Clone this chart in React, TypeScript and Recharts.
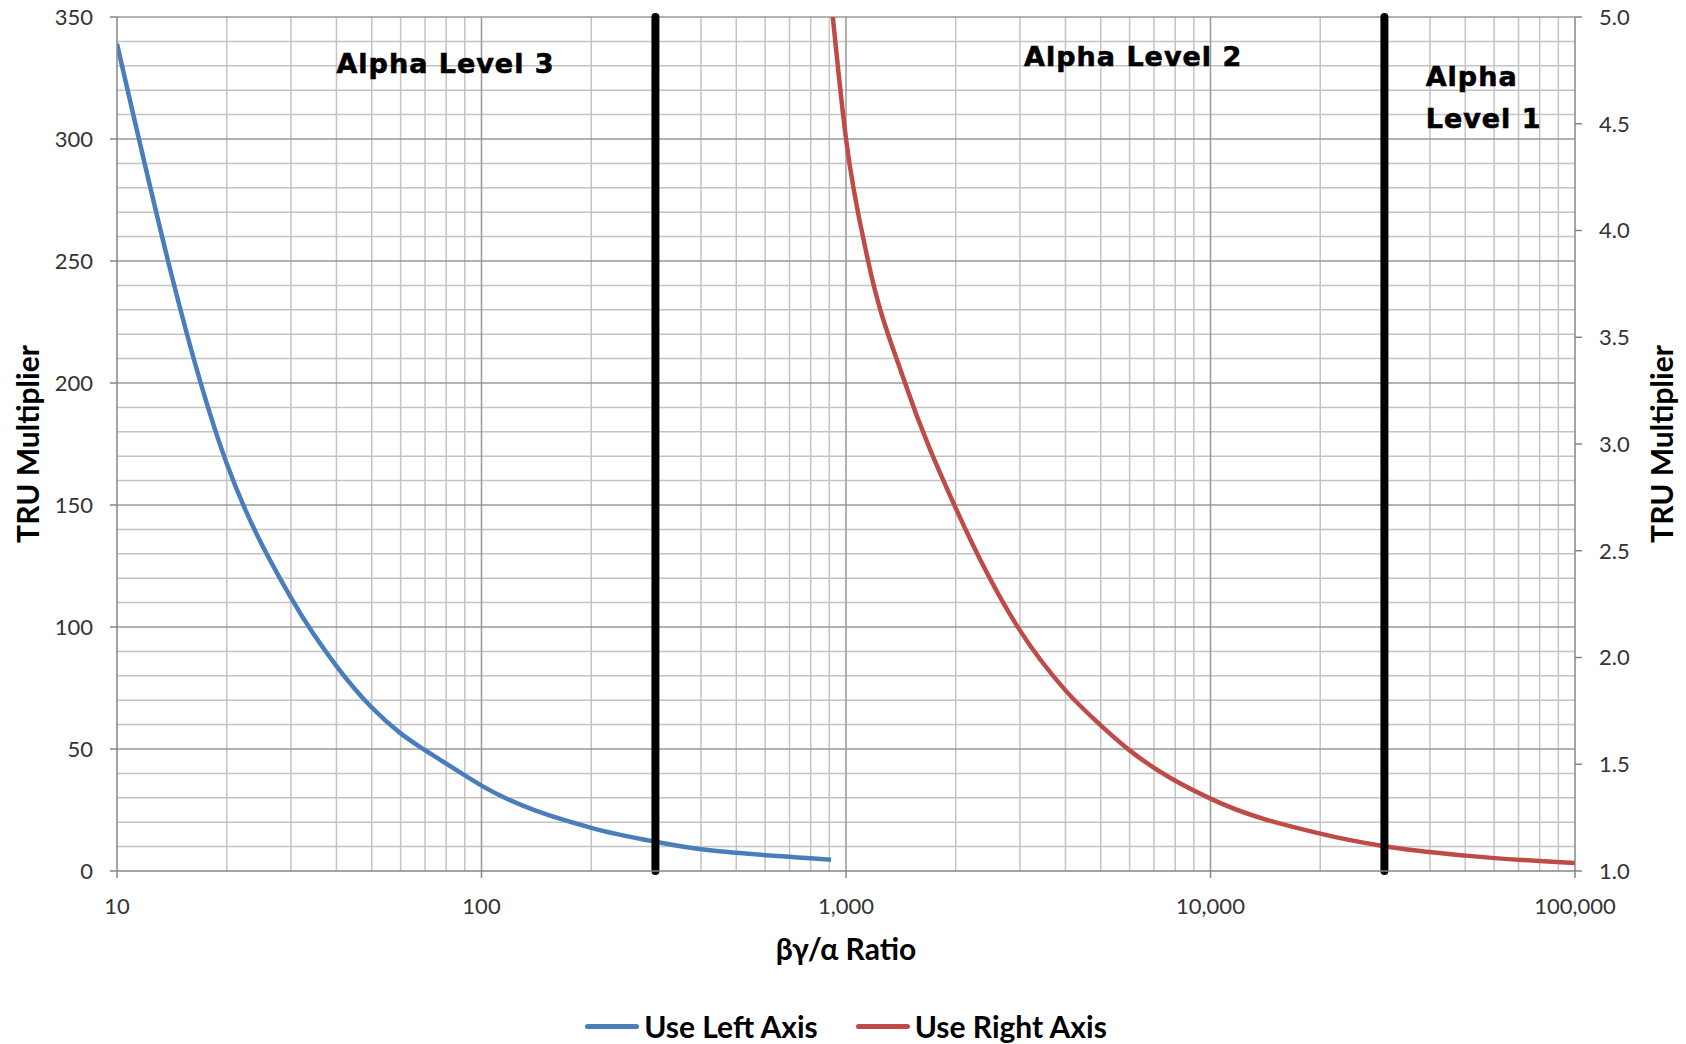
import React from "react"
import { LineChart, Line, XAxis, YAxis, CartesianGrid, ReferenceLine, ReferenceDot, Legend } from "recharts"

// blue curve, read against the left axis
const ratioLeft = [10, 20, 30, 40, 50, 60, 70, 80, 90, 100, 200, 300, 400, 500, 600, 700, 800, 910]
const truLeft = [339, 167, 112, 84, 67, 56.4, 49.5, 44, 39.2, 35, 17.7, 12, 8.9, 7.5, 6.5, 5.8, 5.2, 4.6]

// red curve, read against the right axis
const ratioRight = [920, 1000, 1149, 1449, 2000, 3000, 4000, 5000, 6000, 10000, 20000, 30000, 50000, 100000]
const truRight = [5.0, 4.43, 3.86, 3.29, 2.7, 2.127, 1.846, 1.682, 1.565, 1.339, 1.175, 1.116, 1.072, 1.037]

const xTicks = [10, 100, 1000, 10000, 100000]
const leftTicks = [0, 50, 100, 150, 200, 250, 300, 350]
const rightTicks = [1.0, 1.5, 2.0, 2.5, 3.0, 3.5, 4.0, 4.5, 5.0]

const minorX = [
  20, 30, 40, 50, 60, 70, 80, 90, 200, 300, 400, 500, 600, 700, 800, 900, 2000, 3000, 4000, 5000, 6000, 7000, 8000, 9000,
  20000, 30000, 40000, 50000, 60000, 70000, 80000, 90000,
]
const majorX = [100, 1000, 10000]
const minorY = [
  10, 20, 30, 40, 60, 70, 80, 90, 110, 120, 130, 140, 160, 170, 180, 190, 210, 220, 230, 240, 260, 270, 280, 290, 310,
  320, 330, 340,
]
const majorY = [50, 100, 150, 200, 250, 300, 350]

const levelLines = [300, 30000]

const levelLabels = [
  { text: "Alpha Level 3", x: 40, y: 331 },
  { text: "Alpha Level 2", x: 3080, y: 334 },
  { text: "Alpha", x: 38940, y: 325.7 },
  { text: "Level 1", x: 38940, y: 308.5 },
]

const legendItems = [
  { name: "Use Left Axis", color: "#4a7ebb" },
  { name: "Use Right Axis", color: "#be4b48" },
]

const leftData = ratioLeft.map((r, i) => ({ ratio: r, tru: truLeft[i] }))
const rightData = ratioRight.map((r, i) => ({ ratio: r, tru: truRight[i] }))

const FONT = "Lato, 'Open Sans', sans-serif"
const AXIS = "#868686"

function LeftTitle({ viewBox }: any) {
  const cx = viewBox.x + 27
  const cy = viewBox.y + viewBox.height / 2
  return (
    <text x={cx} y={cy} transform={`rotate(-90, ${cx}, ${cy})`} textAnchor="middle" dominantBaseline="central"
      fontFamily={FONT} fontWeight={700} fontSize={30} fill="#000">
      TRU Multiplier
    </text>
  )
}

function RightTitle({ viewBox }: any) {
  const cx = viewBox.x + 86
  const cy = viewBox.y + viewBox.height / 2
  return (
    <text x={cx} y={cy} transform={`rotate(-90, ${cx}, ${cy})`} textAnchor="middle" dominantBaseline="central"
      fontFamily={FONT} fontWeight={700} fontSize={30} fill="#000">
      TRU Multiplier
    </text>
  )
}

function BottomTitle({ viewBox }: any) {
  return (
    <text x={viewBox.x + viewBox.width / 2} y={viewBox.y + 77} textAnchor="middle" dominantBaseline="central"
      fontFamily={FONT} fontWeight={700} fontSize={30} fill="#000">
      βγ/α Ratio
    </text>
  )
}

function LegendContent() {
  return (
    <div style={{ display: "flex", justifyContent: "center", alignItems: "center", gap: 38 }}>
      {legendItems.map((item) => (
        <div key={item.name} style={{ display: "flex", alignItems: "center" }}>
          <span style={{ width: 54, height: 5, borderRadius: 3, background: item.color, marginRight: 5 }} />
          <span style={{ fontFamily: FONT, fontWeight: 700, fontSize: 30, color: "#000" }}>{item.name}</span>
        </div>
      ))}
    </div>
  )
}

export default function App() {
  return (
    <div style={{ position: "absolute", left: 0, top: 0, background: "#fff" }}>
      <LineChart width={1686} height={1044} margin={{ top: 17, right: 0, bottom: 0, left: 0 }}>
        <XAxis
          dataKey="ratio"
          type="number"
          scale="log"
          domain={[10, 100000]}
          allowDataOverflow
          ticks={xTicks}
          interval={0}
          height={173}
          tickSize={7}
          tickMargin={20}
          tickFormatter={(v: number) => v.toLocaleString("en-US")}
          tick={{ fill: "#333", fontSize: 22, fontFamily: FONT }}
          axisLine={{ stroke: AXIS, strokeWidth: 1.5 }}
          tickLine={{ stroke: AXIS, strokeWidth: 1.5 }}
          label={<BottomTitle />}
        />
        <YAxis
          yAxisId="left"
          domain={[0, 350]}
          ticks={leftTicks}
          interval={0}
          width={117}
          tickSize={7}
          tickMargin={17}
          tick={{ fill: "#333", fontSize: 22, fontFamily: FONT }}
          axisLine={{ stroke: AXIS, strokeWidth: 1.5 }}
          tickLine={{ stroke: AXIS, strokeWidth: 1.5 }}
          label={<LeftTitle />}
        />
        <YAxis
          yAxisId="right"
          orientation="right"
          domain={[1, 5]}
          allowDataOverflow
          ticks={rightTicks}
          interval={0}
          width={111}
          tickSize={7}
          tickMargin={17}
          tickFormatter={(v: number) => v.toFixed(1)}
          tick={{ fill: "#333", fontSize: 22, fontFamily: FONT }}
          axisLine={{ stroke: AXIS, strokeWidth: 1.5 }}
          tickLine={{ stroke: AXIS, strokeWidth: 1.5 }}
          label={<RightTitle />}
        />
        <CartesianGrid yAxisId="left" horizontalValues={minorY} verticalValues={minorX} stroke="#c4c4c4" strokeWidth={1.5} />
        <CartesianGrid yAxisId="left" horizontalValues={majorY} verticalValues={majorX} stroke="#999" strokeWidth={1.5} />
        <Line
          data={leftData}
          dataKey="tru"
          yAxisId="left"
          type="monotone"
          stroke="#4a7ebb"
          strokeWidth={4.5}
          dot={false}
          isAnimationActive={false}
        />
        <Line
          data={rightData}
          dataKey="tru"
          yAxisId="right"
          type="monotone"
          stroke="#be4b48"
          strokeWidth={4.5}
          dot={false}
          isAnimationActive={false}
        />
        {levelLines.map((x) => (
          <ReferenceLine key={x} x={x} yAxisId="left" stroke="#000" strokeWidth={8} strokeLinecap="round" />
        ))}
        {levelLabels.map((l) => (
          <ReferenceDot
            key={l.text}
            x={l.x}
            y={l.y}
            yAxisId="left"
            r={0}
            fill="none"
            stroke="none"
            label={(p: any) => (
              <text x={p.viewBox.x} y={p.viewBox.y} textAnchor="start" dominantBaseline="central" letterSpacing={1}
                fontFamily="'DejaVu Sans', sans-serif" fontWeight={700} fontSize={27} fill="#000" stroke="#000" strokeWidth={0.6}>
                {l.text}
              </text>
            )}
          />
        ))}
        <Legend verticalAlign="middle" align="center" wrapperStyle={{ top: 1008, left: 117, width: 1458 }} content={<LegendContent />} />
      </LineChart>
    </div>
  )
}
